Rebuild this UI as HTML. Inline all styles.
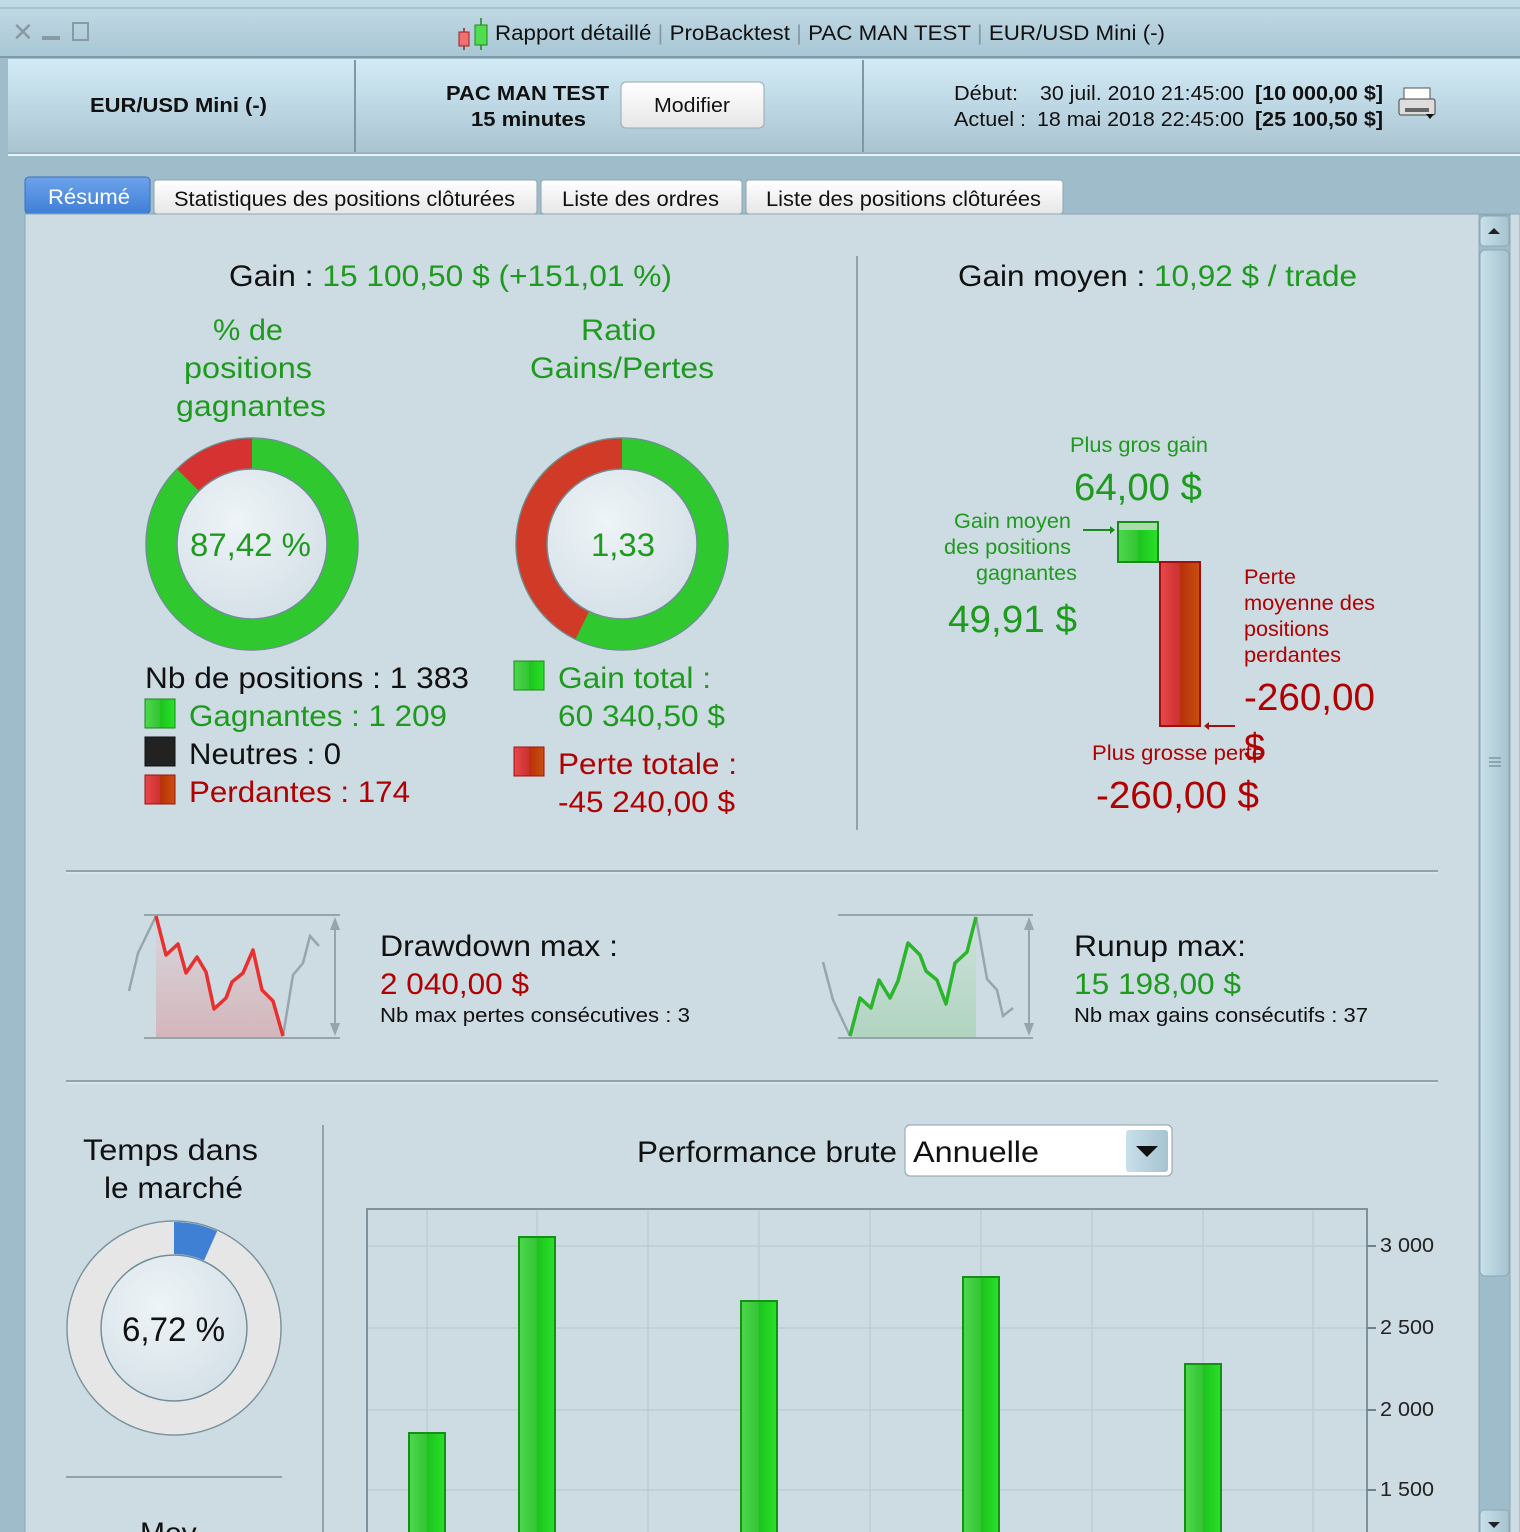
<!DOCTYPE html>
<html><head><meta charset="utf-8"><style>
html,body{margin:0;padding:0;width:1520px;height:1532px;overflow:hidden;background:#9fbccb}
svg{display:block}
text{font-family:"Liberation Sans",Arial,sans-serif}
</style></head><body>
<svg width="1520" height="1532" viewBox="0 0 1520 1532" xmlns="http://www.w3.org/2000/svg">
<defs>
<linearGradient id="tb" x1="0" y1="0" x2="0" y2="1"><stop offset="0" stop-color="#c3dbe6"/><stop offset="1" stop-color="#a8c6d4"/></linearGradient>
<linearGradient id="hd" x1="0" y1="0" x2="0" y2="1"><stop offset="0" stop-color="#d2ebf7"/><stop offset="1" stop-color="#a9c3d0"/></linearGradient>
<linearGradient id="btn" x1="0" y1="0" x2="0" y2="1"><stop offset="0" stop-color="#ffffff"/><stop offset="1" stop-color="#e6e6e6"/></linearGradient>
<linearGradient id="tabA" x1="0" y1="0" x2="0" y2="1"><stop offset="0" stop-color="#6da2ea"/><stop offset="1" stop-color="#3f7fd8"/></linearGradient>
<linearGradient id="gb" x1="0" y1="0" x2="1" y2="0"><stop offset="0" stop-color="#4ed84e"/><stop offset="0.5" stop-color="#33c433"/><stop offset="0.5" stop-color="#1cc41c"/><stop offset="1" stop-color="#2ae02a"/></linearGradient>
<linearGradient id="rb" x1="0" y1="0" x2="1" y2="0"><stop offset="0" stop-color="#e84848"/><stop offset="0.5" stop-color="#cc3030"/><stop offset="0.5" stop-color="#b8300a"/><stop offset="1" stop-color="#c8500f"/></linearGradient>
<linearGradient id="ddf" x1="0" y1="0" x2="0" y2="1"><stop offset="0" stop-color="#d8d8de"/><stop offset="1" stop-color="#d3b6bb"/></linearGradient>
<linearGradient id="ruf" x1="0" y1="0" x2="0" y2="1"><stop offset="0" stop-color="#cfe0dc"/><stop offset="1" stop-color="#b0d4c0"/></linearGradient>
<radialGradient id="inner" cx="0.4" cy="0.35" r="0.7"><stop offset="0" stop-color="#eef4f7"/><stop offset="1" stop-color="#d4e0e7"/></radialGradient>
<linearGradient id="sb" x1="0" y1="0" x2="1" y2="0"><stop offset="0" stop-color="#c8e0ea"/><stop offset="1" stop-color="#a6c3d0"/></linearGradient>
</defs>

<rect x="0" y="0" width="1520" height="58" fill="url(#tb)"/>
<line x1="0" y1="57" x2="1520" y2="57" fill="none" stroke="#7e9aa8" stroke-width="2"/>
<line x1="0" y1="8" x2="1520" y2="8" stroke="#8fb0bf" stroke-width="1"/>
<text x="12" y="41" font-size="26" fill="#8a9aa3">✕</text>
<rect x="42" y="36" width="18" height="4" fill="#8a9aa3"/>
<rect x="73" y="23" width="15" height="17" fill="none" stroke="#8a9aa3" stroke-width="2"/>
<line x1="464" y1="28" x2="464" y2="50" stroke="#a02020" stroke-width="1.5"/>
<rect x="459" y="32" width="10" height="14" fill="#ee7070" stroke="#a02020"/>
<line x1="481" y1="18" x2="481" y2="50" stroke="#1a8a1a" stroke-width="1.5"/>
<rect x="475" y="25" width="12" height="20" fill="#50dd50" stroke="#1a8a1a"/>
<text x="495" y="40" font-size="21" fill="#111" textLength="670" lengthAdjust="spacingAndGlyphs">Rapport détaillé <tspan fill="#8a9aa3">|</tspan> ProBacktest <tspan fill="#8a9aa3">|</tspan> PAC MAN TEST <tspan fill="#8a9aa3">|</tspan> EUR/USD Mini (-)</text>

<rect x="8" y="59" width="1512" height="94" fill="url(#hd)"/>
<line x1="355" y1="60" x2="355" y2="152" stroke="#7e98a6" stroke-width="2"/>
<line x1="863" y1="60" x2="863" y2="152" stroke="#7e98a6" stroke-width="2"/>
<line x1="8" y1="155" x2="1520" y2="155" stroke="#e9f3f7" stroke-width="2"/>
<line x1="8" y1="153" x2="1520" y2="153" stroke="#8aa6b4" stroke-width="1"/>
<g font-size="20" font-weight="bold" fill="#111">
<text x="90" y="112" textLength="177" lengthAdjust="spacingAndGlyphs">EUR/USD Mini (-)</text>
<text x="446" y="100" textLength="163" lengthAdjust="spacingAndGlyphs">PAC MAN TEST</text>
<text x="471" y="126" textLength="115" lengthAdjust="spacingAndGlyphs">15 minutes</text>
</g>
<rect x="621" y="82" width="143" height="46" rx="5" fill="url(#btn)" stroke="#9aa8b0"/>
<text x="654" y="112" font-size="20" fill="#111" textLength="76" lengthAdjust="spacingAndGlyphs">Modifier</text>
<text x="954" y="100" font-size="20" fill="#111" textLength="64" lengthAdjust="spacingAndGlyphs">Début:</text>
<text x="1040" y="100" font-size="20" fill="#111" textLength="204" lengthAdjust="spacingAndGlyphs">30 juil. 2010 21:45:00</text>
<text x="1255" y="100" font-size="20" font-weight="bold" fill="#111" textLength="128" lengthAdjust="spacingAndGlyphs">[10 000,00 $]</text>
<text x="954" y="126" font-size="20" fill="#111" textLength="72" lengthAdjust="spacingAndGlyphs">Actuel :</text>
<text x="1037" y="126" font-size="20" fill="#111" textLength="207" lengthAdjust="spacingAndGlyphs">18 mai 2018 22:45:00</text>
<text x="1255" y="126" font-size="20" font-weight="bold" fill="#111" textLength="128" lengthAdjust="spacingAndGlyphs">[25 100,50 $]</text>
<rect x="1404" y="88" width="26" height="12" fill="#fff" stroke="#555"/>
<rect x="1399" y="99" width="36" height="16" rx="2" fill="#ddd" stroke="#444"/>
<rect x="1405" y="108" width="24" height="4" fill="#666"/>
<path d="M1426,114 l8,0 l-4,5z" fill="#111"/>

<rect x="25" y="177" width="125" height="37" rx="4" fill="url(#tabA)" stroke="#3a70c0"/>
<text x="48" y="204" font-size="21" fill="#fff" textLength="82" lengthAdjust="spacingAndGlyphs">Résumé</text>
<rect x="154" y="180" width="383" height="34" rx="3" fill="url(#btn)" stroke="#8fa4b0"/>
<text x="174" y="206" font-size="21" fill="#111" textLength="341" lengthAdjust="spacingAndGlyphs">Statistiques des positions clôturées</text>
<rect x="541" y="180" width="201" height="34" rx="3" fill="url(#btn)" stroke="#8fa4b0"/>
<text x="562" y="206" font-size="21" fill="#111" textLength="157" lengthAdjust="spacingAndGlyphs">Liste des ordres</text>
<rect x="746" y="180" width="317" height="34" rx="3" fill="url(#btn)" stroke="#8fa4b0"/>
<text x="766" y="206" font-size="21" fill="#111" textLength="275" lengthAdjust="spacingAndGlyphs">Liste des positions clôturées</text>

<rect x="25" y="214" width="1495" height="1330" fill="#cddbe3" stroke="#8fa8b5"/>

<rect x="1479" y="215" width="31" height="1317" fill="#9fbccb" stroke="#8aa8b6"/>
<rect x="1480" y="216" width="29" height="30" rx="4" fill="url(#sb)" stroke="#8aa8b6"/>
<path d="M1488,234 l12,0 l-6,-6z" fill="#222"/>
<rect x="1480" y="250" width="29" height="1026" rx="5" fill="url(#sb)" stroke="#8aa8b6"/>
<line x1="1489" y1="758" x2="1501" y2="758" stroke="#678"/><line x1="1489" y1="762" x2="1501" y2="762" stroke="#678"/><line x1="1489" y1="766" x2="1501" y2="766" stroke="#678"/>
<rect x="1480" y="1510" width="29" height="30" rx="4" fill="url(#sb)" stroke="#8aa8b6"/>
<path d="M1488,1522 l12,0 l-6,6z" fill="#222"/>

<text x="229" y="286" font-size="30" fill="#111" textLength="443" lengthAdjust="spacingAndGlyphs">Gain : <tspan fill="#1e9a1e">15 100,50 $ (+151,01 %)</tspan></text>
<g font-size="30" fill="#1e9a1e">
<text x="213" y="340" textLength="70" lengthAdjust="spacingAndGlyphs">% de</text>
<text x="184" y="378" textLength="128" lengthAdjust="spacingAndGlyphs">positions</text>
<text x="176" y="416" textLength="150" lengthAdjust="spacingAndGlyphs">gagnantes</text>
<text x="581" y="340" textLength="75" lengthAdjust="spacingAndGlyphs">Ratio</text>
<text x="530" y="378" textLength="184" lengthAdjust="spacingAndGlyphs">Gains/Pertes</text>
</g>
<line x1="857" y1="256" x2="857" y2="830" stroke="#8ea3ae" stroke-width="2"/>

<circle cx="252" cy="544" r="106" fill="none" stroke="#6f8c98" stroke-width="1.5"/>
<circle cx="252" cy="544" r="90.5" fill="none" stroke="#2fc82f" stroke-width="30"/>
<path d="M252,453.5 A90.5,90.5 0 0 0 188,480" fill="none" stroke="#d63232" stroke-width="30"/>
<circle cx="252" cy="544" r="75" fill="url(#inner)" stroke="#6f8c98" stroke-width="1.5"/>
<text x="190" y="556" font-size="32" fill="#1e9a1e" textLength="121" lengthAdjust="spacingAndGlyphs">87,42 %</text>
<circle cx="622" cy="544" r="106" fill="none" stroke="#6f8c98" stroke-width="1.5"/>
<circle cx="622" cy="544" r="90.5" fill="none" stroke="#2fc82f" stroke-width="30"/>
<path d="M622,453.5 A90.5,90.5 0 0 0 582.3,625.3" fill="none" stroke="#d23a28" stroke-width="30"/>
<circle cx="622" cy="544" r="75" fill="url(#inner)" stroke="#6f8c98" stroke-width="1.5"/>
<text x="591" y="556" font-size="32" fill="#1e9a1e" textLength="64" lengthAdjust="spacingAndGlyphs">1,33</text>

<text x="145" y="688" font-size="30" fill="#111" textLength="324" lengthAdjust="spacingAndGlyphs">Nb de positions : 1 383</text>
<rect x="145" y="699" width="30" height="29" fill="url(#gb)" stroke="#1a8a1a"/>
<text x="189" y="726" font-size="30" fill="#1e9a1e" textLength="258" lengthAdjust="spacingAndGlyphs">Gagnantes : 1 209</text>
<rect x="145" y="737" width="30" height="29" fill="#222" stroke="#111"/>
<text x="189" y="764" font-size="30" fill="#111" textLength="152" lengthAdjust="spacingAndGlyphs">Neutres : 0</text>
<rect x="145" y="775" width="30" height="29" fill="url(#rb)" stroke="#a01010"/>
<text x="189" y="802" font-size="30" fill="#b00000" textLength="221" lengthAdjust="spacingAndGlyphs">Perdantes : 174</text>
<rect x="514" y="661" width="30" height="29" fill="url(#gb)" stroke="#1a8a1a"/>
<text x="558" y="688" font-size="30" fill="#1e9a1e" textLength="153" lengthAdjust="spacingAndGlyphs">Gain total :</text>
<text x="558" y="726" font-size="30" fill="#1e9a1e" textLength="167" lengthAdjust="spacingAndGlyphs">60 340,50 $</text>
<rect x="514" y="747" width="30" height="29" fill="url(#rb)" stroke="#a01010"/>
<text x="558" y="774" font-size="30" fill="#b00000" textLength="179" lengthAdjust="spacingAndGlyphs">Perte totale :</text>
<text x="558" y="812" font-size="30" fill="#b00000" textLength="177" lengthAdjust="spacingAndGlyphs">-45 240,00 $</text>

<text x="958" y="286" font-size="30" fill="#111" textLength="399" lengthAdjust="spacingAndGlyphs">Gain moyen : <tspan fill="#1e9a1e">10,92 $ / trade</tspan></text>
<text x="1070" y="452" font-size="21" fill="#1e9a1e" textLength="138" lengthAdjust="spacingAndGlyphs">Plus gros gain</text>
<text x="1074" y="500" font-size="38" fill="#1e9a1e" textLength="128" lengthAdjust="spacingAndGlyphs">64,00 $</text>
<g font-size="21" fill="#1e9a1e">
<text x="954" y="528" textLength="117" lengthAdjust="spacingAndGlyphs">Gain moyen</text>
<text x="944" y="554" textLength="127" lengthAdjust="spacingAndGlyphs">des positions</text>
<text x="976" y="580" textLength="101" lengthAdjust="spacingAndGlyphs">gagnantes</text>
</g>
<text x="948" y="632" font-size="38" fill="#1e9a1e" textLength="129" lengthAdjust="spacingAndGlyphs">49,91 $</text>
<rect x="1118" y="522" width="40" height="40" fill="url(#gb)" stroke="#1a8a1a" stroke-width="2"/>
<rect x="1119" y="523" width="38" height="7" fill="#a8dca8"/>
<line x1="1083" y1="530" x2="1113" y2="530" stroke="#1a8a1a" stroke-width="2"/>
<path d="M1110,526 l5,4 l-5,4z" fill="#1a8a1a"/>
<rect x="1160" y="562" width="40" height="164" fill="url(#rb)" stroke="#a01010" stroke-width="2"/>
<line x1="1206" y1="726" x2="1235" y2="726" stroke="#a01010" stroke-width="2"/>
<path d="M1209,722 l-5,4 l5,4z" fill="#a01010"/>
<g font-size="21" fill="#b00000">
<text x="1244" y="584" textLength="52" lengthAdjust="spacingAndGlyphs">Perte</text>
<text x="1244" y="610" textLength="131" lengthAdjust="spacingAndGlyphs">moyenne des</text>
<text x="1244" y="636" textLength="85" lengthAdjust="spacingAndGlyphs">positions</text>
<text x="1244" y="662" textLength="97" lengthAdjust="spacingAndGlyphs">perdantes</text>
</g>
<text x="1244" y="710" font-size="38" fill="#b00000" textLength="131" lengthAdjust="spacingAndGlyphs">-260,00</text>
<text x="1244" y="760" font-size="38" fill="#b00000">$</text>
<text x="1092" y="760" font-size="21" fill="#b00000" textLength="172" lengthAdjust="spacingAndGlyphs">Plus grosse perte</text>
<text x="1096" y="808" font-size="38" fill="#b00000" textLength="163" lengthAdjust="spacingAndGlyphs">-260,00 $</text>

<line x1="66" y1="871" x2="1438" y2="871" stroke="#8ea3ae" stroke-width="2"/>
<line x1="66" y1="873" x2="1438" y2="873" stroke="#e5eef2" stroke-width="1"/>

<path d="M156,916 L166,955 L178,944 L186,973 L197,957 L206,972 L214,1009 L226,998 L232,982 L243,973 L253,950 L262,990 L273,1001 L283,1036 L283,1038 L156,1038Z" fill="url(#ddf)"/>
<line x1="144" y1="915" x2="340" y2="915" stroke="#95a5ac" stroke-width="2"/>
<line x1="144" y1="1038" x2="340" y2="1038" stroke="#95a5ac" stroke-width="2"/>
<polyline points="129,991 138,953 156,916" fill="none" stroke="#97a6ad" stroke-width="2.5"/>
<polyline points="283,1036 293,975 303,963 310,936 319,946" fill="none" stroke="#97a6ad" stroke-width="2.5"/>
<polyline points="156,916 166,955 178,944 186,973 197,957 206,972 214,1009 226,998 232,982 243,973 253,950 262,990 273,1001 283,1036" fill="none" stroke="#e83030" stroke-width="3.5" stroke-linejoin="round"/>
<line x1="335" y1="925" x2="335" y2="1028" stroke="#95a5ac" stroke-width="2"/>
<path d="M330,930 l5,-13 l5,13z M330,1023 l5,13 l5,-13z" fill="#95a5ac"/>
<text x="380" y="956" font-size="30" fill="#111" textLength="238" lengthAdjust="spacingAndGlyphs">Drawdown max :</text>
<text x="380" y="994" font-size="30" fill="#b00000" textLength="149" lengthAdjust="spacingAndGlyphs">2 040,00 $</text>
<text x="380" y="1022" font-size="20" fill="#111" textLength="310" lengthAdjust="spacingAndGlyphs">Nb max pertes consécutives : 3</text>

<path d="M850,1036 L860,998 L871,1008 L879,980 L890,998 L898,981 L908,943 L920,955 L926,971 L937,980 L946,1004 L955,963 L967,952 L976,917 L976,1038 L850,1038Z" fill="url(#ruf)"/>
<line x1="838" y1="915" x2="1033" y2="915" stroke="#95a5ac" stroke-width="2"/>
<line x1="838" y1="1038" x2="1033" y2="1038" stroke="#95a5ac" stroke-width="2"/>
<polyline points="823,962 833,1000 850,1036" fill="none" stroke="#97a6ad" stroke-width="2.5"/>
<polyline points="976,917 987,979 997,990 1003,1016 1013,1008" fill="none" stroke="#97a6ad" stroke-width="2.5"/>
<polyline points="850,1036 860,998 871,1008 879,980 890,998 898,981 908,943 920,955 926,971 937,980 946,1004 955,963 967,952 976,917" fill="none" stroke="#2ab52a" stroke-width="3.5" stroke-linejoin="round"/>
<line x1="1029" y1="925" x2="1029" y2="1028" stroke="#95a5ac" stroke-width="2"/>
<path d="M1024,930 l5,-13 l5,13z M1024,1023 l5,13 l5,-13z" fill="#95a5ac"/>
<text x="1074" y="956" font-size="30" fill="#111" textLength="172" lengthAdjust="spacingAndGlyphs">Runup max:</text>
<text x="1074" y="994" font-size="30" fill="#1e9a1e" textLength="167" lengthAdjust="spacingAndGlyphs">15 198,00 $</text>
<text x="1074" y="1022" font-size="20" fill="#111" textLength="294" lengthAdjust="spacingAndGlyphs">Nb max gains consécutifs : 37</text>

<line x1="66" y1="1081" x2="1438" y2="1081" stroke="#8ea3ae" stroke-width="2"/>
<line x1="66" y1="1083" x2="1438" y2="1083" stroke="#e5eef2" stroke-width="1"/>

<text x="83" y="1160" font-size="30" fill="#111" textLength="175" lengthAdjust="spacingAndGlyphs">Temps dans</text>
<text x="104" y="1198" font-size="30" fill="#111" textLength="139" lengthAdjust="spacingAndGlyphs">le marché</text>
<circle cx="174" cy="1328" r="107" fill="#fff" stroke="#7a939d" stroke-width="1.5"/>
<circle cx="174" cy="1328" r="90" fill="none" stroke="#e6e6e6" stroke-width="32"/>
<path d="M174,1238 A90,90 0 0 1 210.6,1245.8" fill="none" stroke="#3f7fd4" stroke-width="32"/>
<circle cx="174" cy="1328" r="73" fill="url(#inner)" stroke="#6f8c98" stroke-width="1.5"/>
<text x="122" y="1341" font-size="34" fill="#111" textLength="103" lengthAdjust="spacingAndGlyphs">6,72 %</text>
<line x1="66" y1="1477" x2="282" y2="1477" stroke="#8ea3ae" stroke-width="2"/>
<text x="140" y="1543" font-size="30" fill="#111">Moy</text>
<line x1="323" y1="1125" x2="323" y2="1532" stroke="#8ea3ae" stroke-width="2"/>

<text x="637" y="1162" font-size="30" fill="#111" textLength="260" lengthAdjust="spacingAndGlyphs">Performance brute</text>
<rect x="905" y="1125" width="267" height="51" rx="5" fill="#fff" stroke="#8aa0ab"/>
<text x="913" y="1162" font-size="30" fill="#111" textLength="126" lengthAdjust="spacingAndGlyphs">Annuelle</text>
<rect x="1126" y="1130" width="42" height="42" rx="3" fill="url(#sb)"/>
<path d="M1136,1146 l22,0 l-11,11z" fill="#111"/>

<rect x="367" y="1209" width="1000" height="330" fill="#cddbe3" stroke="#7d929c" stroke-width="2"/>
<g stroke="#bfccd3" stroke-width="1.5">
<line x1="368" y1="1246" x2="1366" y2="1246"/><line x1="368" y1="1328" x2="1366" y2="1328"/><line x1="368" y1="1410" x2="1366" y2="1410"/><line x1="368" y1="1490" x2="1366" y2="1490"/>
<line x1="427" y1="1210" x2="427" y2="1532"/><line x1="537" y1="1210" x2="537" y2="1532"/><line x1="648" y1="1210" x2="648" y2="1532"/><line x1="759" y1="1210" x2="759" y2="1532"/><line x1="870" y1="1210" x2="870" y2="1532"/><line x1="981" y1="1210" x2="981" y2="1532"/><line x1="1092" y1="1210" x2="1092" y2="1532"/><line x1="1203" y1="1210" x2="1203" y2="1532"/><line x1="1313" y1="1210" x2="1313" y2="1532"/>
</g>
<g fill="url(#gb)" stroke="#149014" stroke-width="2">
<rect x="409" y="1433" width="36" height="110"/>
<rect x="519" y="1237" width="36" height="310"/>
<rect x="741" y="1301" width="36" height="240"/>
<rect x="963" y="1277" width="36" height="260"/>
<rect x="1185" y="1364" width="36" height="180"/>
</g>
<g stroke="#6e828c" stroke-width="2">
<line x1="1367" y1="1246" x2="1376" y2="1246"/><line x1="1367" y1="1328" x2="1376" y2="1328"/><line x1="1367" y1="1410" x2="1376" y2="1410"/><line x1="1367" y1="1490" x2="1376" y2="1490"/>
</g>
<g font-size="20" fill="#222">
<text x="1380" y="1252" textLength="54" lengthAdjust="spacingAndGlyphs">3 000</text>
<text x="1380" y="1334" textLength="54" lengthAdjust="spacingAndGlyphs">2 500</text>
<text x="1380" y="1416" textLength="54" lengthAdjust="spacingAndGlyphs">2 000</text>
<text x="1380" y="1496" textLength="54" lengthAdjust="spacingAndGlyphs">1 500</text>
</g>
</svg>
</body></html>
